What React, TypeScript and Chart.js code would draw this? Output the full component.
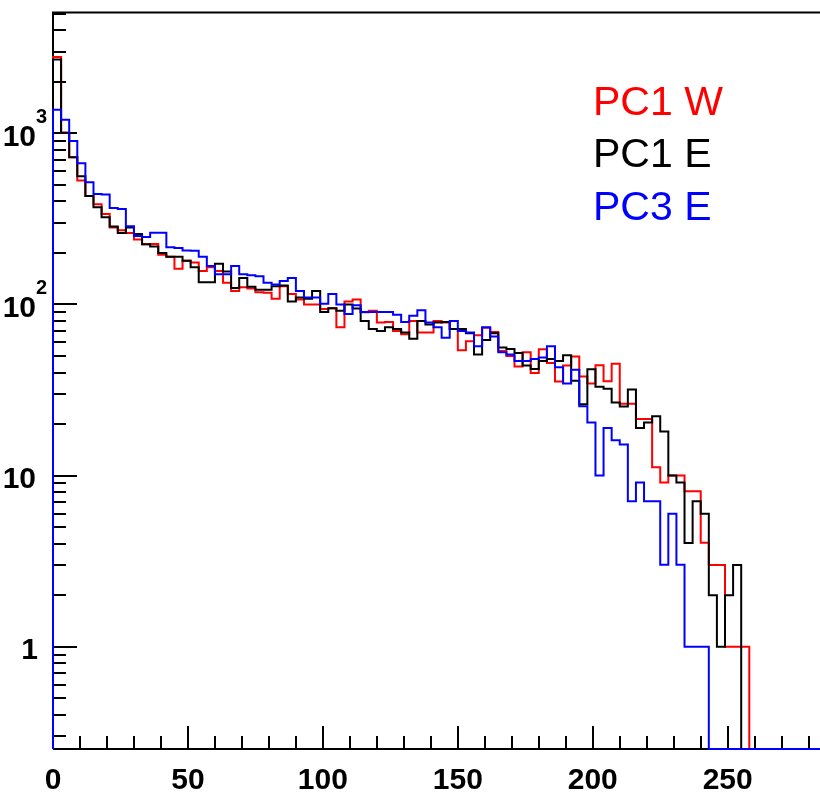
import React, { useEffect, useRef } from "react";
import { Chart, registerables } from "chart.js";

Chart.register(...registerables);

// ---- axis ranges / ticks ----
const BIN_WIDTH = 3;
const X_MIN = 0;
const X_MAX = 284.2;
const Y_MIN = 0.2523;
const Y_MAX = 5089;
const X_TICK_LABELS = [0, 50, 100, 150, 200, 250];
const X_MINOR_STEP = 10;
const Y_TICK_VALUES = [1, 10, 100, 1000];
const Y_TICK_BASES = ["1", "10", "10", "10"];
const Y_TICK_EXPONENTS = ["", "", "2", "3"];

// ---- legend ----
const LEGEND_LABELS = ["PC1 W", "PC1 E", "PC3 E"];
const COLORS = ["#ff0000", "#000000", "#0000ff"];

// ---- histogram contents (3-unit bins starting at 0) ----
const PC1_W = [
  2800, 1010, 726, 530, 430, 386, 338, 282, 272, 262,
  240, 225, 226, 195, 190, 162, 180, 176, 157, 165,
  157, 134, 120, 126, 124, 118, 117, 108, 128, 115,
  107, 100, 100, 94, 95, 73.5, 104, 107, 90, 92,
  78.5, 79, 70, 67, 80, 68.5, 68.5, 80, 78.5, 72,
  54, 61, 66, 73, 69, 53.5, 50, 43.4, 52.5, 39.8,
  54.7, 45.5, 35.5, 44, 49.6, 37.9, 34.5, 44.2, 35.6, 45,
  26.3, 26.3, 21.4, 21.4, 11.2, 9.1, 10, 10, 8.1, 8.1,
  4.05, 3, 3, 1, 1, 1, 0, 0, 0, 0,
  0, 0, 0, 0, 0,
];

const PC1_E = [
  2700, 1010, 726, 562, 430, 370, 324, 286, 262, 282,
  258, 225, 218, 200, 190, 190, 180, 165, 135, 135,
  173, 156, 125, 143, 127, 122, 122, 128, 129, 104,
  110, 108, 120, 90.5, 95, 92, 100, 94.7, 80, 72,
  70, 73.5, 72, 68.5, 63, 80, 76.5, 78.5, 79, 72,
  71.8, 68, 51, 62, 68, 56, 55, 52, 44, 42,
  46.8, 48, 46.8, 50.5, 35.8, 26.1, 41.9, 33, 32.2, 26.7,
  25.3, 31.8, 19, 20.4, 22.2, 18.1, 10, 9.1, 4.04, 7.07,
  5.98, 2, 1, 2, 3, 0, 0, 0, 0, 0,
  0, 0, 0, 0, 0,
];

const PC3_E = [
  1374, 1202, 902, 670, 519, 443, 440, 366, 362, 287,
  251, 248, 263, 263, 216, 214, 207, 206, 190, 168,
  150, 150, 168, 150, 148, 146, 134, 131, 137, 143,
  120, 110, 110, 101, 115, 100, 88, 99, 90.5, 90.5,
  90.5, 90.5, 87, 79, 86, 92.5, 78.5, 73.5, 64, 80,
  70, 68.5, 57, 73.5, 65, 52.5, 51, 46.8, 46.8, 48,
  49, 57, 43, 34.5, 41.5, 25.4, 20.4, 10, 19, 16.1,
  15.2, 7.07, 9.1, 7.07, 7.07, 3.01, 5.98, 3.01, 1, 1,
  1, 0, 0, 0, 0, 0, 0, 0, 0, 0,
  0, 0, 0, 0, 0,
];

const FONT_FAMILY = "'Liberation Sans', Arial, Helvetica, sans-serif";

function histPoints(values: number[]) {
  const pts: { x: number; y: number }[] = [{ x: 0, y: Y_MIN }];
  values.forEach((v, i) => pts.push({ x: i * BIN_WIDTH, y: v > 0 ? v : Y_MIN }));
  const last = values[values.length - 1];
  pts.push({ x: values.length * BIN_WIDTH, y: last > 0 ? last : Y_MIN });
  return pts;
}

const rootAxesPlugin = {
  id: "rootAxes",
  beforeDatasetsDraw(chart: any) {
    const { ctx, chartArea: a, scales } = chart;
    const xs = scales.x;
    const ys = scales.y;
    ctx.save();
    ctx.strokeStyle = "#000";
    ctx.lineWidth = 2;
    ctx.beginPath();
    ctx.moveTo(a.left, a.bottom);
    ctx.lineTo(a.left, a.top);
    ctx.lineTo(a.right, a.top);
    ctx.moveTo(a.left, a.bottom);
    ctx.lineTo(a.right, a.bottom);
    ctx.stroke();

    // y ticks (log): major at decades, minor at 2..9
    ctx.beginPath();
    for (let d = -1; d <= 4; d++) {
      for (let m = 1; m <= 9; m++) {
        const v = m * Math.pow(10, d);
        if (v < Y_MIN || v > Y_MAX) continue;
        const y = Math.round(ys.getPixelForValue(v));
        const len = m === 1 ? 24 : 13;
        ctx.moveTo(a.left, y);
        ctx.lineTo(a.left + len, y);
      }
    }
    // x ticks
    for (let v = X_MIN; v <= X_MAX; v += X_MINOR_STEP) {
      const x = Math.round(xs.getPixelForValue(v));
      const len = v % 50 === 0 ? 23 : 13;
      ctx.moveTo(x, a.bottom);
      ctx.lineTo(x, a.bottom - len);
    }
    ctx.stroke();
    ctx.restore();
  },
  afterDraw(chart: any) {
    const { ctx, scales } = chart;
    const xs = scales.x;
    const ys = scales.y;
    ctx.save();
    ctx.fillStyle = "#000";
    // x labels
    ctx.font = `bold 30px ${FONT_FAMILY}`;
    ctx.textAlign = "center";
    ctx.textBaseline = "alphabetic";
    X_TICK_LABELS.forEach((v) => {
      ctx.fillText(String(v), xs.getPixelForValue(v), 789);
    });
    // y labels
    Y_TICK_VALUES.forEach((v, i) => {
      const y = ys.getPixelForValue(v);
      const base = Y_TICK_BASES[i];
      const exp = Y_TICK_EXPONENTS[i];
      ctx.font = `bold 30px ${FONT_FAMILY}`;
      ctx.textAlign = "right";
      const right = base === "1" ? 38 : 36;
      ctx.fillText(base, right, y + 12.5);
      if (exp) {
        ctx.font = `bold 20px ${FONT_FAMILY}`;
        ctx.textAlign = "left";
        ctx.fillText(exp, 36, y - 10.5);
      }
    });
    // legend texts
    ctx.font = `41px ${FONT_FAMILY}`;
    ctx.textAlign = "left";
    const baselines = [115, 167, 219.5];
    LEGEND_LABELS.forEach((t, i) => {
      ctx.fillStyle = COLORS[i];
      ctx.fillText(t, 593, baselines[i]);
    });
    ctx.restore();
  },
};

export default function App() {
  const canvasRef = useRef<HTMLCanvasElement | null>(null);

  useEffect(() => {
    if (!canvasRef.current) return;
    const ds = (label: string, values: number[], color: string) => ({
      label,
      data: histPoints(values),
      borderColor: color,
      backgroundColor: color,
      borderWidth: 2,
      pointRadius: 0,
      fill: false,
      stepped: "before" as const,
      tension: 0,
      clip: false as any,
    });
    const chart = new Chart(canvasRef.current, {
      type: "line",
      data: {
        // first dataset is drawn on top
        datasets: [
          ds(LEGEND_LABELS[2], PC3_E, COLORS[2]),
          ds(LEGEND_LABELS[1], PC1_E, COLORS[1]),
          ds(LEGEND_LABELS[0], PC1_W, COLORS[0]),
        ],
      },
      options: {
        responsive: false,
        devicePixelRatio: 1,
        animation: false,
        events: [],
        layout: { padding: { left: 53, top: 12.5, right: 0, bottom: 45 } },
        plugins: {
          legend: { display: false },
          tooltip: { enabled: false },
          title: { display: false },
        },
        scales: {
          x: { type: "linear", min: X_MIN, max: X_MAX, display: false },
          y: { type: "logarithmic", min: Y_MIN, max: Y_MAX, display: false },
        },
      },
      plugins: [rootAxesPlugin],
    });
    return () => chart.destroy();
  }, []);

  return (
    <div style={{ position: "absolute", left: 0, top: 0, width: 820, height: 794, background: "#fff" }}>
      <canvas ref={canvasRef} width={820} height={794} style={{ display: "block" }} />
    </div>
  );
}
